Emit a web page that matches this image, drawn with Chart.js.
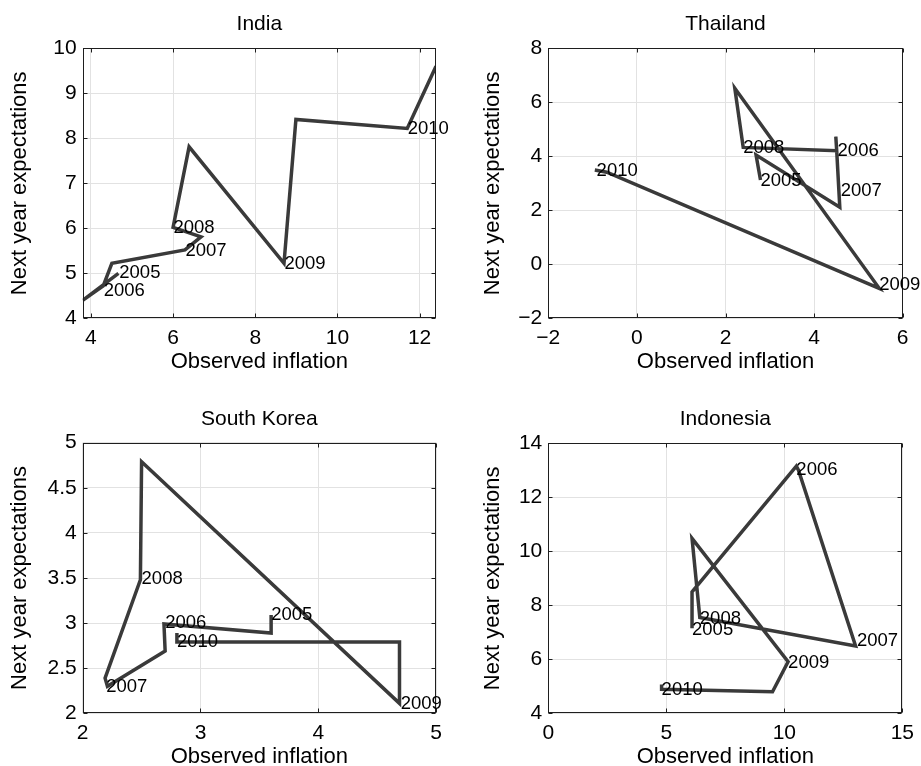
<!DOCTYPE html>
<html>
<head>
<meta charset="utf-8">
<title>Inflation vs expectations</title>
<script src="https://cdn.jsdelivr.net/npm/chart.js@4.4.1/dist/chart.umd.min.js"></script>
<style>
    html, body { margin: 0; padding: 0; background: #fff; }
    #grid { position: relative; width: 921px; height: 766px; }
    .panel { position: absolute; }
    .panel canvas { display: block; }
</style>
</head>
<body>
<div id="grid">
    <div class="panel" style="left:0;top:0"><canvas id="india" width="460" height="383"></canvas></div>
    <div class="panel" style="left:460px;top:0"><canvas id="thailand" width="461" height="383"></canvas></div>
    <div class="panel" style="left:0;top:383px"><canvas id="korea" width="460" height="383"></canvas></div>
    <div class="panel" style="left:460px;top:383px"><canvas id="indonesia" width="461" height="383"></canvas></div>
</div>
<script>
// --- data: observed inflation (x) vs next-year expectations (y), semiannual path ---
const years = ['2005', '2006', '2007', '2008', '2009', '2010'];

const indiaInflation = [4.67, 3.8, 4.3, 4.51, 6.29, 6.68, 6.0, 6.39, 8.7, 8.99, 11.7, 12.4];
const indiaExpect    = [5.0, 4.4, 4.72, 5.22, 5.52, 5.81, 6.02, 7.81, 5.22, 8.42, 8.22, 9.6];
const indiaYearX     = [4.69, 4.31, 6.3, 6.01, 8.71, 11.71];
const indiaYearY     = [5.0, 4.6, 5.5, 6.0, 5.2, 8.2];
const indiaXTicks    = [4, 6, 8, 10, 12];
const indiaYTicks    = [4, 5, 6, 7, 8, 9, 10];
const indiaXRange    = [3.8, 12.4];
const indiaYRange    = [4, 10];

const thaiInflation  = [2.79, 2.69, 4.58, 4.51, 4.49, 4.51, 2.4, 2.21, 5.47, -0.68, -0.95];
const thaiExpect     = [3.12, 4.05, 2.11, 4.21, 4.73, 4.21, 4.33, 6.52, -0.89, 3.41, 3.49];
const thaiYearX      = [2.79, 4.53, 4.6, 2.4, 5.47, -0.91];
const thaiYearY      = [3.09, 4.21, 2.73, 4.3, -0.75, 3.47];
const thaiXTicks     = [-2, 0, 2, 4, 6];
const thaiYTicks     = [-2, 0, 2, 4, 6, 8];
const thaiXRange     = [-2, 6];
const thaiYRange     = [-2, 8];

const koreaInflation = [3.6, 3.6, 2.69, 2.7, 2.21, 2.19, 2.49, 2.5, 4.69, 4.69, 2.8, 2.8];
const koreaExpect    = [3.09, 2.89, 2.99, 2.69, 2.3, 2.39, 3.48, 4.79, 2.11, 2.79, 2.79, 2.89];
const koreaYearX     = [3.6, 2.7, 2.2, 2.5, 4.7, 2.8];
const koreaYearY     = [3.09, 3.0, 2.29, 3.49, 2.1, 2.79];
const koreaXTicks    = [2, 3, 4, 5];
const koreaYTicks    = [2, 2.5, 3, 3.5, 4, 4.5, 5];
const koreaXRange    = [2, 5];
const koreaYRange    = [2, 5];

const indoInflation  = [6.09, 6.09, 10.51, 10.6, 13.02, 6.42, 6.09, 10.16, 9.5, 4.8, 4.8];
const indoExpect     = [7.15, 8.5, 13.15, 13.0, 6.49, 7.55, 10.48, 5.91, 4.8, 4.89, 5.07];
const indoYearX      = [6.09, 10.51, 13.08, 6.42, 10.16, 4.8];
const indoYearY      = [7.09, 13.01, 6.69, 7.48, 5.87, 4.86];
const indoXTicks     = [0, 5, 10, 15];
const indoYTicks     = [4, 6, 8, 10, 12, 14];
const indoXRange     = [0, 15];
const indoYRange     = [4, 14];

// --- styling ---
const FONT = '"Liberation Sans", Arial, Helvetica, sans-serif';
const LINE_COLOR = '#3a3a3a';
const GRID_COLOR = '#e2e2e2';
const TITLE_SIZE = 21;
const AXIS_SIZE = 22;
const TICK_SIZE = 21;
const YEAR_SIZE = 18.5;

const fmtTick = v => (v < 0 ? '\u2212' + Math.abs(v) : String(v));

// box around the plot area with inward tick marks on all four sides
const framePlugin = {
    id: 'frame',
    afterDraw(chart) {
        const { ctx, chartArea: a, scales } = chart;
        const L = Math.round(a.left) + 0.5, R = Math.round(a.right) - 0.5;
        const T = Math.round(a.top) + 0.5, B = Math.round(a.bottom) - 0.5;
        ctx.save();
        ctx.strokeStyle = '#1e1e1e';
        ctx.lineWidth = 1;
        ctx.strokeRect(L, T, R - L, B - T);
        ctx.beginPath();
        scales.x.ticks.forEach(t => {
            const px = Math.round(scales.x.getPixelForValue(t.value)) + 0.5;
            ctx.moveTo(px, T); ctx.lineTo(px, T + 4);
            ctx.moveTo(px, B); ctx.lineTo(px, B - 4);
        });
        scales.y.ticks.forEach(t => {
            const py = Math.round(scales.y.getPixelForValue(t.value)) + 0.5;
            ctx.moveTo(L, py); ctx.lineTo(L + 4, py);
            ctx.moveTo(R, py); ctx.lineTo(R - 4, py);
        });
        ctx.stroke();
        ctx.restore();
    }
};

// year annotations placed in data coordinates
const yearLabelPlugin = {
    id: 'yearLabels',
    afterDraw(chart, args, opts) {
        const { ctx, scales } = chart;
        ctx.save();
        ctx.font = YEAR_SIZE + 'px ' + FONT;
        ctx.fillStyle = '#000';
        ctx.textAlign = 'left';
        ctx.textBaseline = 'middle';
        opts.xs.forEach((x, i) => {
            ctx.fillText(years[i], scales.x.getPixelForValue(x), scales.y.getPixelForValue(opts.ys[i]));
        });
        ctx.restore();
    }
};

function makePanel(id, title, xs, ys, yearXs, yearYs, xTicks, yTicks, xRange, yRange, box) {
    const canvas = document.getElementById(id);
    const W = canvas.width, H = canvas.height;
    const titleLH = TITLE_SIZE * 1.2;
    const axisLH = AXIS_SIZE * 1.2;
    const points = xs.map((x, i) => ({ x: x, y: ys[i] }));

    return new Chart(canvas, {
        type: 'scatter',
        data: {
            datasets: [{
                data: points,
                showLine: true,
                borderColor: LINE_COLOR,
                borderWidth: 3.5,
                borderJoinStyle: 'miter',
                pointRadius: 0,
                pointHoverRadius: 0,
                tension: 0
            }]
        },
        options: {
            responsive: false,
            animation: false,
            events: [],
            devicePixelRatio: 1,
            layout: { padding: { left: 0, right: W - box.right, top: 0, bottom: 0 } },
            plugins: {
                legend: { display: false },
                tooltip: { enabled: false },
                title: {
                    display: true,
                    text: title,
                    fullSize: false,
                    color: '#000',
                    font: { family: FONT, size: TITLE_SIZE, weight: 'normal' },
                    padding: { top: box.titleY - titleLH / 2, bottom: box.top - box.titleY - titleLH / 2 }
                },
                yearLabels: { xs: yearXs, ys: yearYs }
            },
            scales: {
                x: {
                    type: 'linear',
                    min: xRange[0],
                    max: xRange[1],
                    afterBuildTicks: s => { s.ticks = xTicks.map(v => ({ value: v })); },
                    afterFit: s => { s.height = H - box.bottom; },
                    ticks: {
                        autoSkip: false,
                        maxRotation: 0,
                        padding: 7,
                        color: '#000',
                        font: { family: FONT, size: TICK_SIZE },
                        callback: fmtTick
                    },
                    grid: { color: GRID_COLOR, drawTicks: false },
                    border: { display: false },
                    title: {
                        display: true,
                        text: 'Observed inflation',
                        color: '#000',
                        font: { family: FONT, size: AXIS_SIZE },
                        padding: { top: 0, bottom: H - box.xTitleY - axisLH / 2 }
                    }
                },
                y: {
                    type: 'linear',
                    min: yRange[0],
                    max: yRange[1],
                    afterBuildTicks: s => { s.ticks = yTicks.map(v => ({ value: v })); },
                    afterFit: s => { s.width = box.left; },
                    ticks: {
                        autoSkip: false,
                        padding: 6,
                        color: '#000',
                        font: { family: FONT, size: TICK_SIZE },
                        callback: fmtTick
                    },
                    grid: { color: GRID_COLOR, drawTicks: false },
                    border: { display: false },
                    title: {
                        display: true,
                        text: 'Next year expectations',
                        color: '#000',
                        font: { family: FONT, size: AXIS_SIZE },
                        padding: { top: box.yTitleX - axisLH / 2, bottom: 0 }
                    }
                }
            }
        },
        plugins: [framePlugin, yearLabelPlugin]
    });
}

// plot rectangles inside each panel canvas
const leftTop     = { left: 82.7, right: 436,   top: 48.3, bottom: 318.3, titleY: 24,   yTitleX: 20,   xTitleY: 361.7 };
const rightTop    = { left: 88.3, right: 442.7, top: 48.3, bottom: 318.3, titleY: 24,   yTitleX: 33.3, xTitleY: 361.7 };
const leftBottom  = { left: 82.7, right: 436,   top: 59.7, bottom: 330.3, titleY: 36.3, yTitleX: 20,   xTitleY: 373.7 };
const rightBottom = { left: 88.3, right: 442.7, top: 60.3, bottom: 330.3, titleY: 36.3, yTitleX: 33.3, xTitleY: 373.7 };

makePanel('india', 'India', indiaInflation, indiaExpect, indiaYearX, indiaYearY,
    indiaXTicks, indiaYTicks, indiaXRange, indiaYRange, leftTop);
makePanel('thailand', 'Thailand', thaiInflation, thaiExpect, thaiYearX, thaiYearY,
    thaiXTicks, thaiYTicks, thaiXRange, thaiYRange, rightTop);
makePanel('korea', 'South Korea', koreaInflation, koreaExpect, koreaYearX, koreaYearY,
    koreaXTicks, koreaYTicks, koreaXRange, koreaYRange, leftBottom);
makePanel('indonesia', 'Indonesia', indoInflation, indoExpect, indoYearX, indoYearY,
    indoXTicks, indoYTicks, indoXRange, indoYRange, rightBottom);
</script>
</body>
</html>
